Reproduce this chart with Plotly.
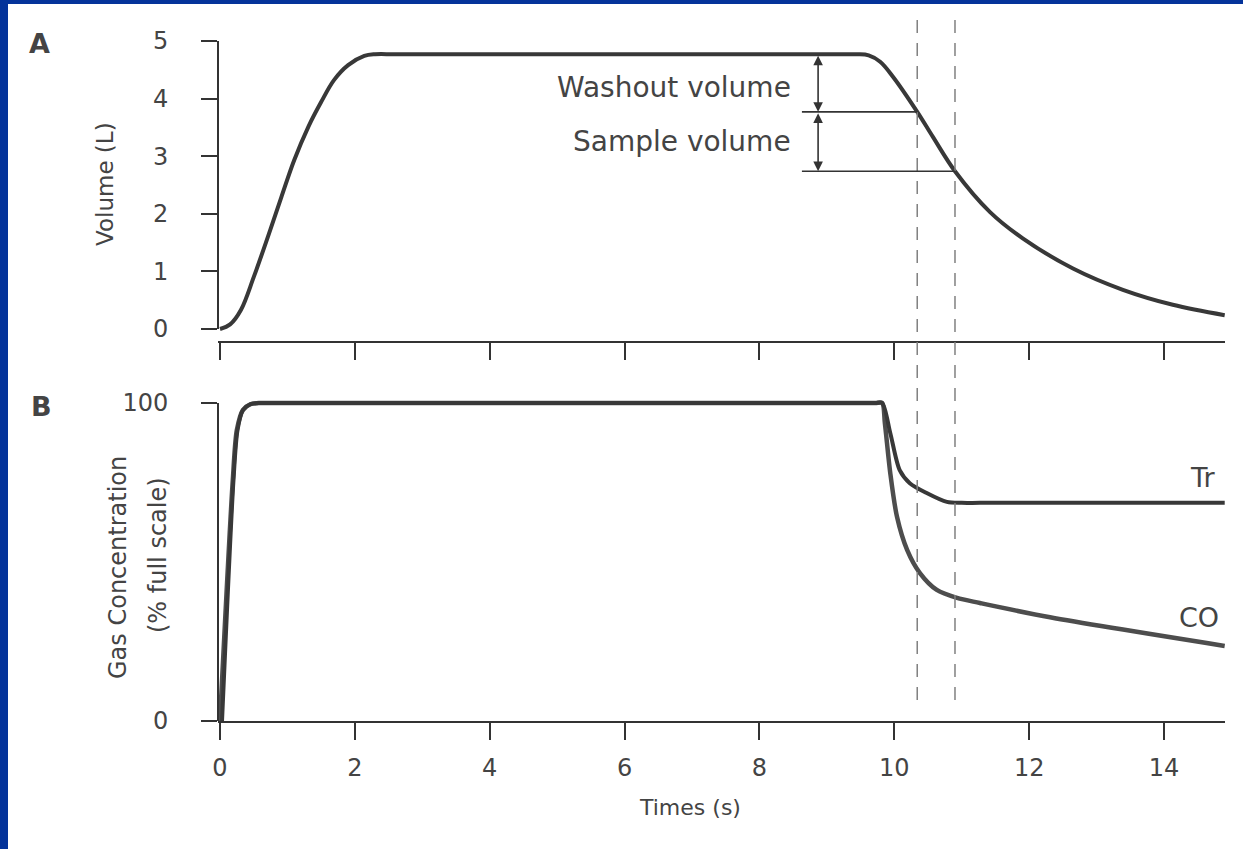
import plotly.graph_objects as go

# ---------------- data ----------------
# Panel A: lung volume vs time
t_vol = [0, 0.15, 0.31, 0.50, 0.71, 0.91, 1.10, 1.31, 1.50, 1.69, 1.90, 2.14, 2.30,
         2.6, 4.0, 6.0, 8.0, 9.20, 9.45, 9.62, 9.79, 9.98, 10.34, 10.57, 10.90, 11.42,
         11.91, 12.65, 13.39, 14.13, 14.90]
vol = [0, 0.08, 0.33, 0.90, 1.60, 2.29, 2.93, 3.51, 3.94, 4.32, 4.58, 4.74, 4.77,
       4.77, 4.77, 4.77, 4.77, 4.77, 4.77, 4.75, 4.64, 4.38, 3.77, 3.34, 2.74, 2.03,
       1.57, 1.05, 0.68, 0.42, 0.24]

# Panel B: gas concentrations (% full scale)
t_tr = [0.03, 0.20, 0.26, 0.34, 0.45, 0.60, 0.9, 4.0, 8.0, 9.5, 9.72, 9.82, 9.94,
        10.08, 10.23, 10.48, 10.78, 11.0, 11.27, 14.90]
tr = [0, 75.8, 91.5, 97.8, 99.6, 100, 100, 100, 100, 100, 100, 100, 90.6,
      78.9, 74.8, 71.7, 68.9, 68.6, 68.6, 68.6]
t_co = [0, 0.19, 0.25, 0.34, 0.45, 0.60, 0.9, 4.0, 8.0, 9.5, 9.72, 9.82, 9.86, 9.94,
        10.04, 10.19, 10.38, 10.63, 10.93, 11.27, 12.31, 14.90]
co = [0, 75.8, 91.5, 97.8, 99.6, 100, 100, 100, 100, 100, 100, 100, 93.7, 78.0,
      64.2, 53.8, 46.5, 41.2, 38.7, 37.1, 32.6, 23.6]

# sampling markers
sample_times = [10.34, 10.90]          # dashed lines
plateau_vol = 4.77
marker_vols = [3.77, 2.74]             # volume at the sampling times
x_ticks = [0, 2, 4, 6, 8, 10, 12, 14]
vol_ticks = [0, 1, 2, 3, 4, 5]
conc_ticks = [0, 100]

# ---------------- figure ----------------
W, H = 1243, 849
FONT = "DejaVu Sans"
BLUE = "#04339a"
INK = "#383838"
TXT = "#444444"
AX = "#333333"


def px(x):
    return x / W


def py(y):
    return 1 - y / H


fig = go.Figure()

fig.add_trace(go.Scatter(x=t_vol, y=vol, mode="lines", xaxis="x2", yaxis="y2",
                         line=dict(color=INK, width=4, shape="spline", smoothing=1.0),
                         hoverinfo="skip"))
fig.add_trace(go.Scatter(x=t_co, y=co, mode="lines", xaxis="x", yaxis="y",
                         line=dict(color="#4d4d4d", width=4.5, shape="spline", smoothing=0.8),
                         hoverinfo="skip"))
fig.add_trace(go.Scatter(x=t_tr, y=tr, mode="lines", xaxis="x", yaxis="y",
                         line=dict(color=INK, width=4, shape="spline", smoothing=0.8),
                         hoverinfo="skip"))

x_range = [(218 - 220) / 67.43, (1225 - 220) / 67.43]
xdom = [px(218), px(1225)]

axis_common = dict(showgrid=False, zeroline=False, ticks="outside", tickwidth=2,
                   tickcolor=AX, linecolor=AX, linewidth=2, automargin=False,
                   tickfont=dict(family=FONT, size=24, color=TXT))

fig.update_layout(
    width=W, height=H,
    margin=dict(l=0, r=0, t=0, b=0, pad=0, autoexpand=False),
    paper_bgcolor=BLUE,
    plot_bgcolor="rgba(0,0,0,0)",
    showlegend=False,
    xaxis=dict(domain=xdom, range=x_range, anchor="y", showline=True,
               tickvals=x_ticks, ticklen=17, ticklabelstandoff=7, **axis_common),
    yaxis=dict(domain=[py(721), py(400)], range=[0, (721 - 400) / 3.18], anchor="x",
               showline=False, tickvals=conc_ticks, ticklen=16, ticklabelstandoff=28,
               **axis_common),
    xaxis2=dict(domain=xdom, range=x_range, anchor="y2", showline=True,
                tickvals=x_ticks, ticklen=17, showticklabels=False, **axis_common),
    yaxis2=dict(domain=[py(341), py(41)], range=[(329 - 341) / 57.6, 5.0], anchor="x2",
                showline=False, tickvals=vol_ticks, ticklen=16, ticklabelstandoff=28,
                **axis_common),
)

shapes = []
# white panel
shapes.append(dict(type="rect", xref="paper", yref="paper", x0=px(8), x1=1.0,
                   y0=0, y1=py(4), fillcolor="white", line=dict(width=0), layer="below"))
# y-axis lines limited to data range
shapes.append(dict(type="line", xref="x2 domain", yref="y2", x0=0, x1=0,
                   y0=0, y1=5, line=dict(color=AX, width=2)))
shapes.append(dict(type="line", xref="x domain", yref="y", x0=0, x1=0,
                   y0=0, y1=100, line=dict(color=AX, width=2)))
# dashed sampling lines
for ts in sample_times:
    shapes.append(dict(type="line", xref="x", yref="paper", x0=ts, x1=ts,
                       y0=py(700), y1=py(16),
                       line=dict(color="#808080", width=1.5, dash="13px,10px")))
# horizontal markers at sample volumes
for ts, v in zip(sample_times, marker_vols):
    shapes.append(dict(type="line", xref="x2", yref="y2", x0=8.63, x1=ts,
                       y0=v, y1=v, line=dict(color=AX, width=1.6)))
fig.update_layout(shapes=shapes)

ann = []
# double-headed arrows
arrow_x = 8.87
spans = [(plateau_vol, marker_vols[0]), (marker_vols[0], marker_vols[1])]
for top, bot in spans:
    ann.append(dict(xref="x2", yref="y2", axref="x2", ayref="y2",
                    x=arrow_x, y=bot, ax=arrow_x, ay=top, text="",
                    showarrow=True, arrowhead=2, startarrowhead=2, arrowside="end+start",
                    arrowsize=1.2, arrowwidth=1.6, arrowcolor=AX,
                    standoff=0, startstandoff=0))


def txt(x, y, s, size=25, xanchor="center", angle=0):
    ann.append(dict(xref="paper", yref="paper", x=px(x), y=py(y), text=s,
                    showarrow=False, xanchor=xanchor, yanchor="middle",
                    textangle=angle,
                    font=dict(family=FONT, size=size, color=TXT)))


txt(793, 87, "Washout volume", size=28, xanchor="right")
txt(793, 142, "Sample volume", size=28, xanchor="right")
txt(1218, 477, "Tr", size=27, xanchor="right")
txt(1221, 617, "CO", size=27, xanchor="right")
txt(105, 184, "Volume (L)", size=23, angle=-90)
txt(118, 568, "Gas Concentration", size=24, angle=-90)
txt(158, 555, "(% full scale)", size=24, angle=-90)
txt(690, 807, "Times (s)", size=22)
txt(39, 43, "<b>A</b>", size=27)
txt(42, 406, "<b>B</b>", size=27)
fig.update_layout(annotations=ann)

fig.write_html(
    "out.html",
    config={"displayModeBar": False, "staticPlot": True},
    post_script="document.body.style.margin='0px';"
                "document.body.style.background='" + BLUE + "';",
)
